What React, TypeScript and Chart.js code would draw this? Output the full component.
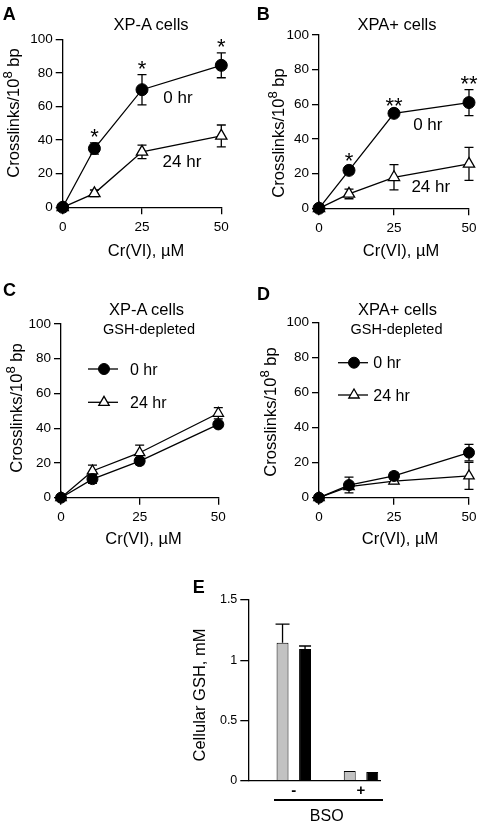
import React, { useEffect, useRef } from 'react';
import { Chart, registerables } from 'chart.js';

Chart.register(...registerables);

const FONT = "'Liberation Sans', Arial, Helvetica, sans-serif";
Chart.defaults.font.family = FONT;
Chart.defaults.color = '#000';

// ---------------- data ----------------
const doses = [0, 10, 25, 50]; // Cr(VI), µM
const doseTicks = [0, 25, 50];
const crossTicks = [0, 20, 40, 60, 80, 100];
const seriesNames = ['0 hr', '24 hr'];

const aZero = [0, 35, 70, 84.5];
const aZeroErr = [0, 3.4, 9, 7.4];
const aDay = [0, 8.3, 33, 42.5];
const aDayErr = [0, 2, 4, 6.5];
const aStars = ['', '*', '*', '*'];

const bZero = [0, 21.9, 54.8, 61];
const bZeroErr = [0, 2.2, 1, 7.5];
const bDay = [0, 8.3, 17.9, 25.6];
const bDayErr = [0, 2.8, 7.3, 9.5];
const bStars = ['', '*', '**', '**'];

const cZero = [0, 10.7, 21.1, 42.2];
const cZeroErr = [0, 2.5, 2, 1.5];
const cDay = [0, 15.4, 25.9, 48.6];
const cDayErr = [0, 3.4, 4.4, 3.2];

const dZero = [0, 7.2, 12.4, 25.7];
const dZeroErr = [0, 4.5, 2, 4.7];
const dDay = [0, 6.3, 9.5, 12.4];
const dDayErr = [0, 1.5, 1.5, 7.7];

const bsoLabels = ['-', '+'];
const bsoPos = [1, 2];
const gshTicks = [0, 0.5, 1, 1.5];
const gshXPA = [1.145, 0.08];
const gshXPAErr = [0.155, 0];
const gshXPAplus = [1.093, 0.072];
const gshXPAplusErr = [0.025, 0];

// ---------------- layout ----------------
const W = 481;
const H = 823;
const YW = 45;
const XH = 40;
type Box = { l: number; r: number; t: number; b: number };
const boxA: Box = { l: 62.7, r: 221.3, t: 39.3, b: 207.3 };
const boxB: Box = { l: 319, r: 472, t: 35, b: 208.3 };
const boxC: Box = { l: 61, r: 218.3, t: 324, b: 497.7 };
const boxD: Box = { l: 319, r: 472, t: 322.3, b: 497.7 };
const boxE: Box = { l: 248.3, r: 380, t: 600, b: 780.7 };

const padFor = (b: Box) => ({ left: b.l - YW, right: W - b.r, top: b.t, bottom: H - b.b - XH });

// ---------------- drawing helpers ----------------
function marker(ctx: CanvasRenderingContext2D, style: string, x: number, y: number, r: number, fill: string, stroke: string, lw: number) {
  ctx.beginPath();
  if (style === 'triangle') {
    let rad = 0;
    const step = (2 * Math.PI) / 3;
    ctx.moveTo(x + Math.sin(rad) * r, y - Math.cos(rad) * r);
    rad += step;
    ctx.lineTo(x + Math.sin(rad) * r, y - Math.cos(rad) * r);
    rad += step;
    ctx.lineTo(x + Math.sin(rad) * r, y - Math.cos(rad) * r);
    ctx.closePath();
  } else {
    ctx.arc(x, y, r, 0, Math.PI * 2);
  }
  ctx.fillStyle = fill;
  ctx.fill();
  ctx.lineWidth = lw;
  ctx.strokeStyle = stroke;
  ctx.stroke();
}

const errorBarPlugin = {
  id: 'errBars',
  beforeDatasetsDraw(chart: any) {
    const { ctx } = chart;
    const ys = chart.scales.y;
    chart.data.datasets.forEach((ds: any, i: number) => {
      if (!ds.errors) return;
      const meta = chart.getDatasetMeta(i);
      ctx.save();
      ctx.strokeStyle = '#000';
      ctx.lineWidth = 1.3;
      meta.data.forEach((el: any, j: number) => {
        const e = ds.errors[j];
        if (!e) return;
        const v = ds.data[j].y;
        const top = ys.getPixelForValue(v + e);
        const bot = ds.errorUp ? ys.getPixelForValue(v) : ys.getPixelForValue(v - e);
        const half = ds.capHalf ?? 4.5;
        ctx.beginPath();
        ctx.moveTo(el.x, top);
        ctx.lineTo(el.x, bot);
        ctx.moveTo(el.x - half, top);
        ctx.lineTo(el.x + half, top);
        if (!ds.errorUp) {
          ctx.moveTo(el.x - half, bot);
          ctx.lineTo(el.x + half, bot);
        }
        ctx.stroke();
      });
      ctx.restore();
    });
  },
};

const annotPlugin = {
  id: 'annot',
  afterDatasetsDraw(chart: any, _args: any, opts: any) {
    const { ctx, chartArea } = chart;
    const xs = chart.scales.x;
    const ys = chart.scales.y;
    ctx.save();
    ctx.fillStyle = '#000';
    if (opts.stars) {
      const ds = chart.data.datasets[0];
      ctx.font = `22px ${FONT}`;
      ctx.textAlign = 'center';
      ctx.textBaseline = 'alphabetic';
      opts.stars.forEach((s: string, j: number) => {
        if (!s) return;
        const pt = ds.data[j];
        ctx.fillText(s, xs.getPixelForValue(pt.x), ys.getPixelForValue(pt.y + ds.errors[j]) + 1);
      });
    }
    if (opts.labels) {
      ctx.textAlign = 'left';
      ctx.textBaseline = 'alphabetic';
      opts.labels.forEach((l: any) => {
        ctx.font = `${l.size}px ${FONT}`;
        ctx.fillText(l.text, xs.getPixelForValue(l.x), ys.getPixelForValue(l.y));
      });
    }
    if (opts.legend) {
      const lg = opts.legend;
      chart.data.datasets.forEach((ds: any, i: number) => {
        const y = chartArea.top + lg.rows[i];
        ctx.beginPath();
        ctx.strokeStyle = '#000';
        ctx.lineWidth = 1.3;
        ctx.moveTo(chartArea.left + lg.x0, y);
        ctx.lineTo(chartArea.left + lg.x1, y);
        ctx.stroke();
        marker(ctx, ds.pointStyle, chartArea.left + lg.mx, y, ds.pointRadius, ds.pointBackgroundColor, ds.pointBorderColor, ds.pointBorderWidth);
        ctx.fillStyle = '#000';
        ctx.font = `${lg.size}px ${FONT}`;
        ctx.textAlign = 'left';
        ctx.textBaseline = 'alphabetic';
        ctx.fillText(ds.label, chartArea.left + lg.tx, y + 0.36 * lg.size);
      });
    }
    ctx.restore();
  },
};

// ---------------- chart configs ----------------
const axisLine = { display: true, color: '#000', width: 1.3 };

function crossConfig(box: Box, zero: number[], zeroErr: number[], day: number[], dayErr: number[], r: number, annot: any) {
  return {
    type: 'line',
    data: {
      datasets: [
        {
          label: seriesNames[0],
          data: doses.map((x, i) => ({ x, y: zero[i] })),
          errors: zeroErr,
          borderColor: '#000',
          borderWidth: 1.3,
          pointStyle: 'circle',
          pointRadius: r,
          pointBackgroundColor: '#000',
          pointBorderColor: '#000',
          pointBorderWidth: 1,
          fill: false,
          tension: 0,
          clip: false,
        },
        {
          label: seriesNames[1],
          data: doses.map((x, i) => ({ x, y: day[i] })),
          errors: dayErr,
          borderColor: '#000',
          borderWidth: 1.3,
          pointStyle: 'triangle',
          pointRadius: r + 0.5,
          pointBackgroundColor: '#fff',
          pointBorderColor: '#000',
          pointBorderWidth: 1.3,
          fill: false,
          tension: 0,
          clip: false,
        },
      ],
    },
    options: {
      responsive: false,
      animation: false,
      events: [],
      layout: { padding: padFor(box) },
      plugins: { legend: { display: false }, tooltip: { enabled: false }, annot },
      scales: {
        x: {
          type: 'linear',
          min: 0,
          max: 50,
          offset: false,
          afterBuildTicks: (s: any) => {
            s.ticks = doseTicks.map((v) => ({ value: v }));
          },
          afterFit: (s: any) => {
            s.height = XH;
          },
          ticks: { font: { size: 13.5 }, color: '#000', padding: 4.5, maxRotation: 0, autoSkip: false },
          grid: { drawOnChartArea: false, drawTicks: true, tickLength: 7, color: '#000', lineWidth: 1.3 },
          border: axisLine,
        },
        y: {
          type: 'linear',
          min: 0,
          max: 100,
          afterBuildTicks: (s: any) => {
            s.ticks = crossTicks.map((v) => ({ value: v }));
          },
          afterFit: (s: any) => {
            s.width = YW;
          },
          ticks: { font: { size: 13.5 }, color: '#000', padding: 3 },
          grid: { drawOnChartArea: false, drawTicks: true, tickLength: 7, color: '#000', lineWidth: 1.3 },
          border: axisLine,
        },
      },
    },
    plugins: [errorBarPlugin, annotPlugin],
  };
}

function gshConfig() {
  return {
    type: 'bar',
    data: {
      datasets: [
        {
          label: 'XP-A',
          data: bsoPos.map((x, i) => ({ x, y: gshXPA[i] })),
          errors: gshXPAErr,
          errorUp: true,
          capHalf: 7,
          backgroundColor: '#c2c2c2',
          borderColor: '#000',
          borderWidth: 1,
          categoryPercentage: 0.67,
          barPercentage: 0.53,
        },
        {
          label: 'XPA+',
          data: bsoPos.map((x, i) => ({ x, y: gshXPAplus[i] })),
          errors: gshXPAplusErr,
          errorUp: true,
          capHalf: 6,
          backgroundColor: '#000',
          borderColor: '#000',
          borderWidth: 1,
          categoryPercentage: 0.67,
          barPercentage: 0.53,
        },
      ],
    },
    options: {
      responsive: false,
      animation: false,
      events: [],
      layout: { padding: padFor(boxE) },
      plugins: { legend: { display: false }, tooltip: { enabled: false } },
      scales: {
        x: {
          type: 'linear',
          min: 0.323,
          max: 2.283,
          offset: false,
          afterBuildTicks: (s: any) => {
            s.ticks = bsoPos.map((v) => ({ value: v }));
          },
          afterFit: (s: any) => {
            s.height = XH;
          },
          ticks: {
            font: { size: 15, weight: 'bold' },
            color: '#000',
            padding: 1,
            maxRotation: 0,
            autoSkip: false,
            callback: (_v: any, i: number) => bsoLabels[i],
          },
          grid: { display: false, drawTicks: false },
          border: axisLine,
        },
        y: {
          type: 'linear',
          min: 0,
          max: 1.5,
          afterBuildTicks: (s: any) => {
            s.ticks = gshTicks.map((v) => ({ value: v }));
          },
          afterFit: (s: any) => {
            s.width = YW;
          },
          ticks: { font: { size: 12.5 }, color: '#000', padding: 3, callback: (v: any) => String(v) },
          grid: { drawOnChartArea: false, drawTicks: true, tickLength: 8, color: '#000', lineWidth: 1.3 },
          border: axisLine,
        },
      },
    },
    plugins: [errorBarPlugin],
  };
}

// ---------------- components ----------------
function ChartCanvas({ make }: { make: () => any }) {
  const ref = useRef<HTMLCanvasElement>(null);
  useEffect(() => {
    const chart = new Chart(ref.current as HTMLCanvasElement, make());
    return () => chart.destroy();
  }, []);
  return (
    <canvas
      ref={ref}
      width={W}
      height={H}
      style={{ position: 'absolute', left: 0, top: 0, width: W, height: H }}
    />
  );
}

function Txt({ x, y, size, bold, align = 'center', rotate, children }: any) {
  const outer: React.CSSProperties = {
    position: 'absolute',
    left: x,
    top: y,
    width: 0,
    height: 0,
    transform: rotate ? 'rotate(-90deg)' : undefined,
    transformOrigin: '0 0',
  };
  const inner: React.CSSProperties = {
    position: 'absolute',
    left: 0,
    bottom: -0.1535 * size,
    transform: align === 'center' ? 'translateX(-50%)' : undefined,
    whiteSpace: 'nowrap',
    fontFamily: FONT,
    fontSize: size,
    lineHeight: `${size}px`,
    fontWeight: bold ? 'bold' : 'normal',
    color: '#000',
  };
  return (
    <div style={outer}>
      <div style={inner}>{children}</div>
    </div>
  );
}

const Sup8 = () => <span style={{ fontSize: '0.8em', position: 'relative', top: '-0.5em' }}>8</span>;
const YTitle = () => (
  <>
    Crosslinks/10
    <Sup8 /> bp
  </>
);

export default function App() {
  const T = 16.5;
  return (
    <div style={{ position: 'absolute', left: 0, top: 0, width: W, height: H, background: '#fff', overflow: 'hidden' }}>
      <ChartCanvas
        make={() =>
          crossConfig(boxA, aZero, aZeroErr, aDay, aDayErr, 6, {
            stars: aStars,
            labels: [
              { text: seriesNames[0], x: 31.7, y: 61.9, size: 17 },
              { text: seriesNames[1], x: 31.5, y: 24.2, size: 17 },
            ],
          })
        }
      />
      <ChartCanvas
        make={() =>
          crossConfig(boxB, bZero, bZeroErr, bDay, bDayErr, 6, {
            stars: bStars,
            labels: [
              { text: seriesNames[0], x: 31.4, y: 45.2, size: 17 },
              { text: seriesNames[1], x: 30.8, y: 9.6, size: 17 },
            ],
          })
        }
      />
      <ChartCanvas
        make={() =>
          crossConfig(boxC, cZero, cZeroErr, cDay, cDayErr, 5.5, {
            legend: { x0: 27, x1: 57, mx: 43, tx: 69, rows: [45, 78.3], size: 16 },
          })
        }
      />
      <ChartCanvas
        make={() =>
          crossConfig(boxD, dZero, dZeroErr, dDay, dDayErr, 5.5, {
            legend: { x0: 19, x1: 49, mx: 35, tx: 54.3, rows: [40.4, 72.7], size: 16 },
          })
        }
      />
      <ChartCanvas make={gshConfig} />

      {/* panel letters */}
      <Txt x={2.7} y={20} size={18} bold align="left">A</Txt>
      <Txt x={256.7} y={20} size={18} bold align="left">B</Txt>
      <Txt x={3} y={296} size={18} bold align="left">C</Txt>
      <Txt x={257} y={300.7} size={18} bold align="left">D</Txt>
      <Txt x={192.7} y={593} size={18} bold align="left">E</Txt>

      {/* panel titles */}
      <Txt x={151} y={30} size={T}>XP-A cells</Txt>
      <Txt x={397} y={30} size={T}>XPA+ cells</Txt>
      <Txt x={146.5} y={315} size={T}>XP-A cells</Txt>
      <Txt x={149} y={334.5} size={14.5}>GSH-depleted</Txt>
      <Txt x={397.5} y={315} size={T}>XPA+ cells</Txt>
      <Txt x={396.5} y={334.5} size={14.5}>GSH-depleted</Txt>

      {/* x-axis titles */}
      <Txt x={146} y={256} size={T}>Cr(VI), µM</Txt>
      <Txt x={401} y={256} size={T}>Cr(VI), µM</Txt>
      <Txt x={143.5} y={544} size={T}>Cr(VI), µM</Txt>
      <Txt x={400} y={544} size={T}>Cr(VI), µM</Txt>

      {/* y-axis titles */}
      <Txt x={21} y={112.5} size={T} rotate><YTitle /></Txt>
      <Txt x={286} y={133} size={T} rotate><YTitle /></Txt>
      <Txt x={24} y={407.5} size={T} rotate><YTitle /></Txt>
      <Txt x={278} y={412} size={T} rotate><YTitle /></Txt>
      <Txt x={205} y={695} size={T} rotate>Cellular GSH, mM</Txt>

      {/* BSO group bracket */}
      <div style={{ position: 'absolute', left: 274, top: 799.4, width: 109, height: 1.3, background: '#000' }} />
      <Txt x={326.7} y={822} size={16}>BSO</Txt>
    </div>
  );
}
